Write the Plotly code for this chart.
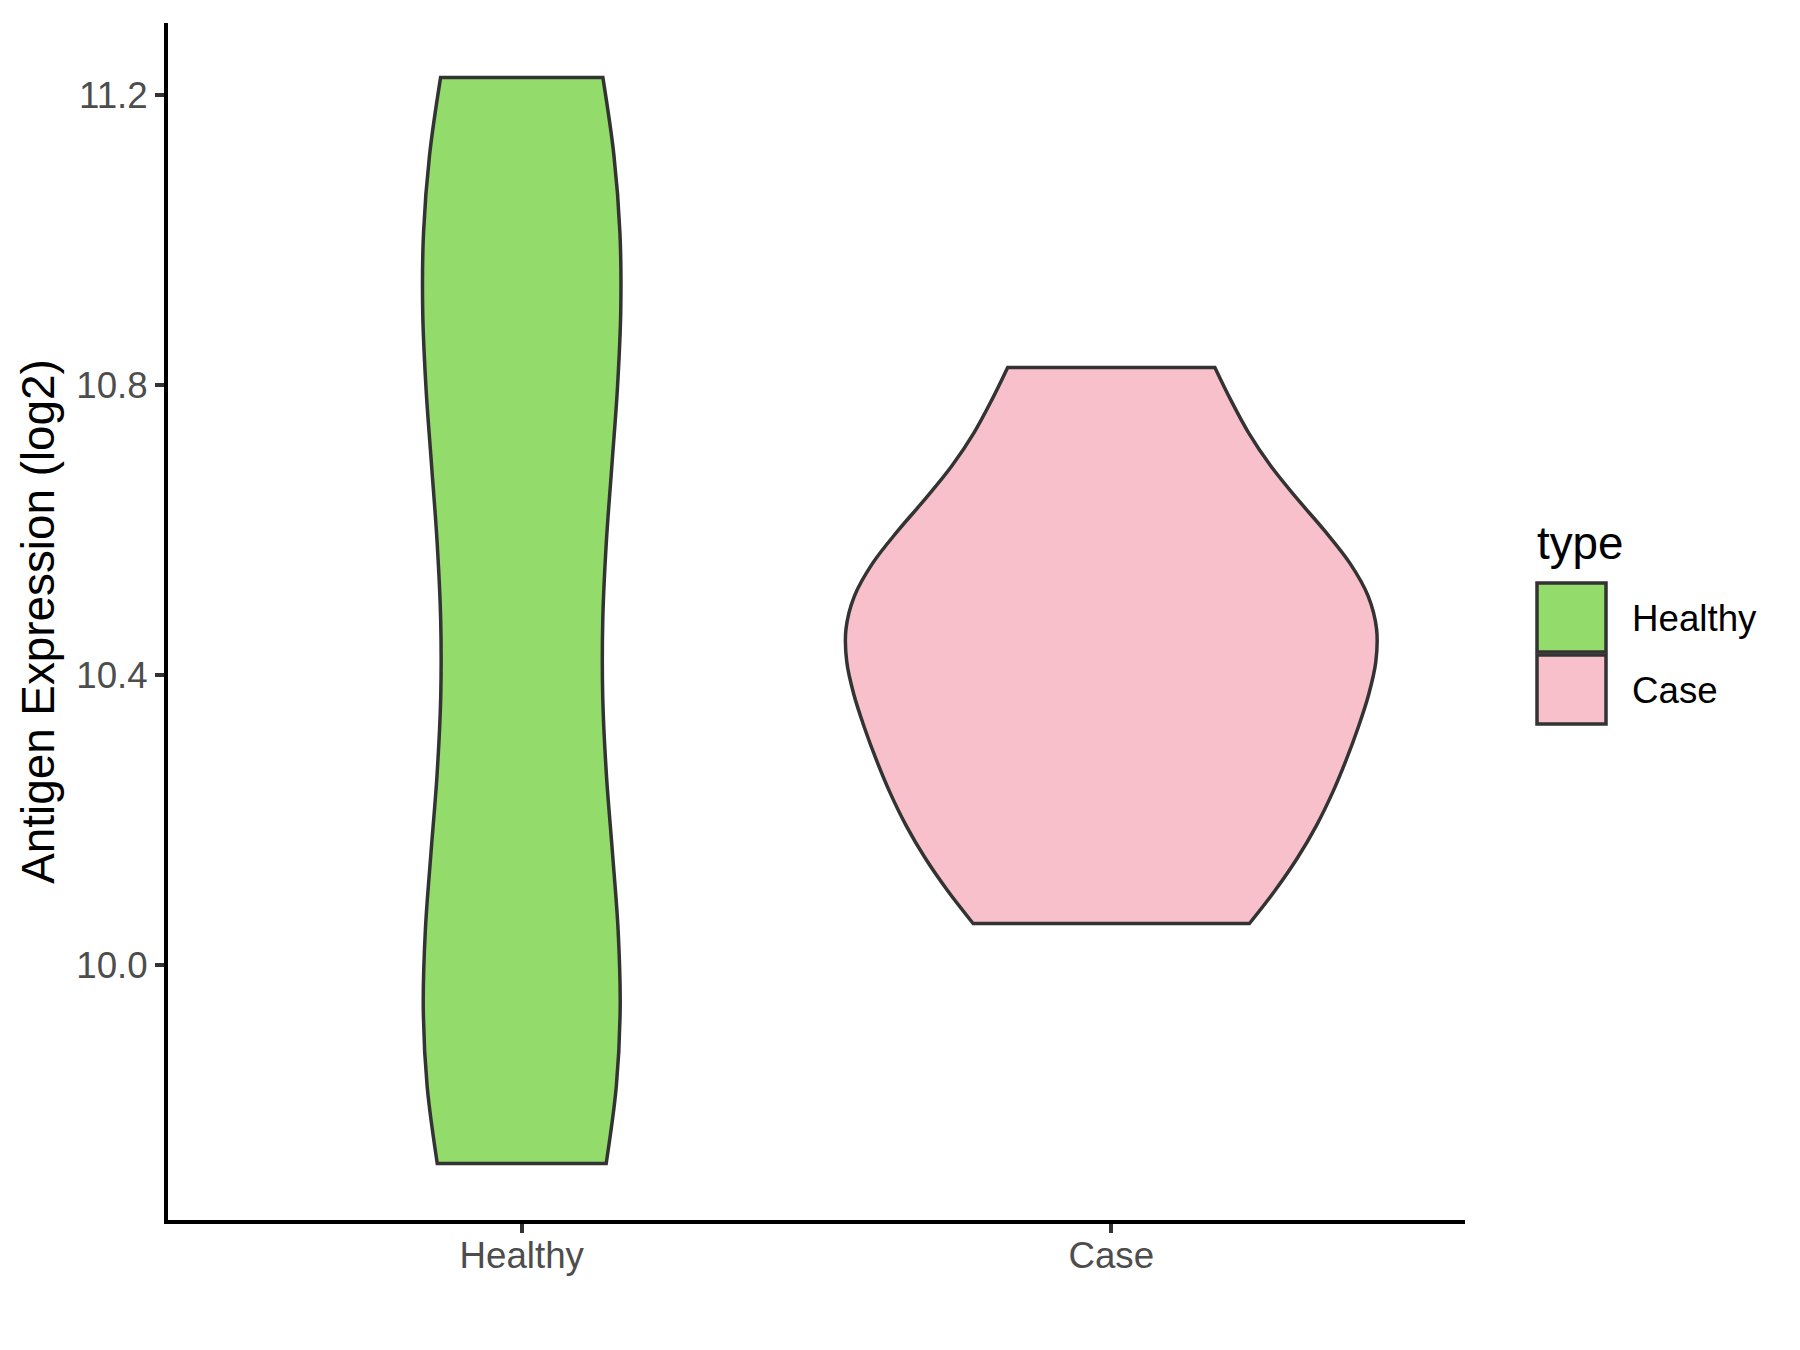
import plotly.graph_objects as go

# ---- data ----
categories = ["Healthy", "Case"]
healthy_values = [9.726, 9.961, 9.961, 10.524, 10.844, 11.058, 11.224]
case_values = [10.057, 10.215, 10.298, 10.475, 10.475, 10.589, 10.824]
series_values = {"Healthy": healthy_values, "Case": case_values}
y_tick_values = [10.0, 10.4, 10.8, 11.2]
legend_title = "type"
y_title = "Antigen Expression (log2)"

# ---- style ----
fill_colors = {"Healthy": "#93DB6A", "Case": "#F7C0CB"}
bandwidths = {"Healthy": 0.333, "Case": 0.14}
violin_widths = {"Healthy": 0.336, "Case": 0.90}
outline = "#333333"
FONT = "Liberation Sans, Arial, sans-serif"
TICK_SIZE = 36.7
TITLE_SIZE = 45.8

W, H = 1800, 1350
L, R, T, B = 160, 343, 15, 138
OFF = 8  # page body margin
pw, ph = W - L - R, H - T - B


def px(x):
    return (x - OFF - L) / pw


def py(y):
    return (H - B - (y - OFF)) / ph


fig = go.Figure()
for cat in categories:
    fig.add_trace(go.Violin(
        x=[cat] * len(series_values[cat]),
        y=series_values[cat],
        name=cat,
        fillcolor=fill_colors[cat],
        line=dict(color=outline, width=3.5),
        bandwidth=bandwidths[cat],
        spanmode="hard",
        scalemode="width",
        width=violin_widths[cat],
        points=False,
        box_visible=False,
        meanline_visible=False,
        opacity=1,
        showlegend=False,
        hoverinfo="y+name",
    ))

fig.update_layout(
    width=W, height=H,
    margin=dict(l=L, r=R, t=T, b=B, autoexpand=False),
    paper_bgcolor="white", plot_bgcolor="white",
    font=dict(family=FONT, color="black"),
    showlegend=False,
)
fig.update_xaxes(
    type="category", categoryorder="array", categoryarray=categories,
    range=[-0.6, 1.6],
    showline=True, linecolor="black", linewidth=4,
    ticks="outside", ticklen=9, tickwidth=3.5, tickcolor=outline,
    tickfont=dict(size=TICK_SIZE, color="#4D4D4D", family=FONT),
    ticklabelstandoff=-9,
    showgrid=False, zeroline=False,
)
fig.update_yaxes(
    range=[9.648, 11.299],
    tickvals=y_tick_values, tickformat=".1f",
    showline=True, linecolor="black", linewidth=4,
    ticks="outside", ticklen=9, tickwidth=3.5, tickcolor=outline,
    tickfont=dict(size=TICK_SIZE, color="#4D4D4D", family=FONT),
    showgrid=False, zeroline=False,
    title=dict(text=y_title, font=dict(size=TITLE_SIZE, color="black", family=FONT), standoff=8),
)

# ---- legend drawn as keys ----
fig.add_annotation(x=px(1535), y=py(543), xref="paper", yref="paper",
                   text=legend_title, showarrow=False, xanchor="left", yanchor="middle",
                   font=dict(size=TITLE_SIZE, color="black", family=FONT))
key_tops = [583, 655]
for cat, top in zip(categories, key_tops):
    fig.add_shape(type="rect", xref="paper", yref="paper",
                  x0=px(1537), x1=px(1606), y0=py(top), y1=py(top + 69),
                  fillcolor=fill_colors[cat], line=dict(color=outline, width=3.5))
    fig.add_annotation(x=px(1630), y=py(top + 35), xref="paper", yref="paper",
                       text=cat, showarrow=False, xanchor="left", yanchor="middle",
                       font=dict(size=TICK_SIZE, color="black", family=FONT))

fig.write_html("out.html")
